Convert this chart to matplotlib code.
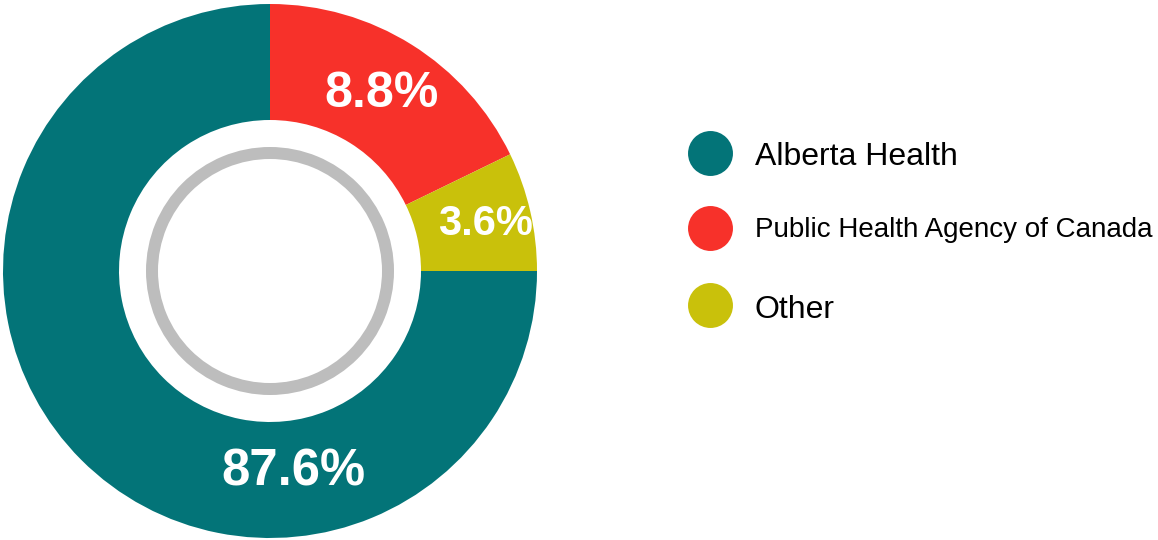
"""
Funding sources donut chart
"""
import matplotlib as mpl
import matplotlib.pyplot as plt
from matplotlib.patches import Wedge
import numpy as np

mpl.rcParams['font.family'] = ['Liberation Sans', 'DejaVu Sans']

# data
sources = ['Alberta Health', 'Public Health Agency of Canada', 'Other']
shares = [87.6, 8.8, 3.6]          # printed percentages
arc_shares = [75.0, 17.8, 7.2]     # arc sizes as drawn in the original chart
colors = ['#037478', '#F7312A', '#C9C10B']

fig = plt.figure(figsize=(11.58, 5.4), dpi=100)
ax = fig.add_axes([0, 0, 1, 1])

cx, cy = 270, 269
r_out, r_in = 267, 151

# clockwise from 12 o'clock: PHAC, Other, Alberta Health
order = [1, 2, 0]
ax.pie([arc_shares[i] for i in order],
       colors=[colors[i] for i in order],
       startangle=90, counterclock=False,
       center=(cx, cy), radius=r_out,
       wedgeprops=dict(width=r_out - r_in, linewidth=0))

# grey ring in the hole
ax.add_patch(Wedge((cx, cy), 124, 0, 360, width=12, color='#BDBDBD', lw=0))

# percentage labels: x, baseline y, fontsize
label_pos = [(293, 54, 36.5), (382, 433, 36), (485, 305, 30)]
for val, (x, y, fs) in zip(shares, label_pos):
    ax.text(x, y, f'{val}%', color='white', fontsize=fs,
            fontweight='bold', ha='center', va='baseline')

# legend
dot_y = [387, 312, 235]
text_y = [375, 303, 222]
leg_fs = [23, 20, 23]
for name, col, yd, yt, fs in zip(sources, colors, dot_y, text_y, leg_fs):
    ax.scatter([710], [yd], s=np.pi * 22.5**2 * 0.72**2 * 1.27, color=col, lw=0)
    ax.text(755, yt, name, fontsize=fs, ha='left', va='baseline', color='black')

ax.set_xlim(0, 1158)
ax.set_ylim(0, 540)
ax.set_aspect('equal')
ax.axis('off')

fig.savefig('out.png', dpi=100)
plt.close('all')
